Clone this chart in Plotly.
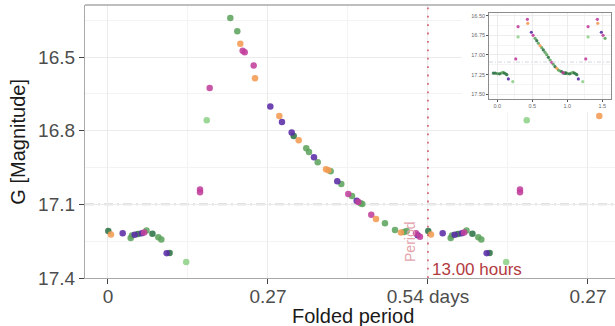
import plotly.graph_objects as go

# ---- folded light curve (days since epoch, folded on 0.54 d) ----
period_days = 0.54
phase_days = [0.0005, 0.005, 0.0248, 0.0383, 0.0405, 0.045, 0.0506, 0.057, 0.061, 0.065,
              0.075, 0.085, 0.090, 0.099, 0.104, 0.132, 0.1553, 0.1553, 0.1666, 0.1716,
              0.2064, 0.2182, 0.2233, 0.2273, 0.2307, 0.2459, 0.2481, 0.2739, 0.2891, 0.2936,
              0.310, 0.3134, 0.3218, 0.3346, 0.3392, 0.3476, 0.3539, 0.3679, 0.3718, 0.3758,
              0.3869, 0.3937, 0.4055, 0.4118, 0.4197, 0.4224, 0.4264, 0.4291, 0.4443, 0.4523,
              0.4674, 0.4843, 0.4944, 0.4995, 0.5041, 0.5198, 0.5226, 0.5265]
g_mag = [17.209, 17.223, 17.218, 17.237, 17.227, 17.224, 17.221, 17.218, 17.215, 17.207,
         17.220, 17.234, 17.243, 17.299, 17.298, 17.335, 17.040, 17.051, 16.757, 16.626,
         16.341, 16.395, 16.446, 16.474, 16.480, 16.534, 16.586, 16.701, 16.740, 16.765,
         16.807, 16.822, 16.839, 16.872, 16.887, 16.908, 16.929, 16.957, 16.961, 16.965,
         17.006, 17.017, 17.058, 17.066, 17.085, 17.090, 17.096, 17.099, 17.142, 17.160,
         17.177, 17.204, 17.215, 17.213, 17.209, 17.218, 17.226, 17.232]
group = ["dg", "or", "pu", "gr", "gr", "pu", "dg", "pu", "ma", "gr",
         "dg", "gr", "gr", "pu", "dg", "lg", "ma", "ma", "lg", "ma",
         "gr", "gr", "or", "ma", "ma", "ma", "or", "pu", "or", "pu",
         "pu", "dg", "or", "gr", "gr", "pu", "gr", "or", "or", "gr",
         "pu", "gr", "ma", "gr", "pu", "ma", "gr", "gr", "ma", "or",
         "gr", "gr", "or", "gr", "gr", "ma", "pu", "ma"]

# ---- inset: folded in phase units ----
inset_phase = [-0.057, -0.030, 0.000, 0.030, 0.055, 0.080, 0.100, 0.120, 0.135, 0.157,
               0.220, 0.263, 0.296, 0.296, 0.429, 0.434, 0.486, 0.510, 0.539, 0.563,
               0.586, 0.610, 0.634, 0.657, 0.681, 0.706, 0.729, 0.753, 0.777, 0.800,
               0.824, 0.849, 0.871, 0.896, 0.920, 0.940, 0.960, 0.980]
inset_mag = [17.230, 17.232, 17.236, 17.240, 17.232, 17.222, 17.230, 17.240, 17.250, 17.305,
             17.340, 17.050, 16.640, 16.770, 16.546, 16.597, 16.711, 16.750, 16.788, 16.818,
             16.851, 16.882, 16.907, 16.936, 16.966, 16.996, 17.030, 17.064, 17.093, 17.118,
             17.149, 17.169, 17.191, 17.204, 17.212, 17.225, 17.232, 17.228]
inset_group = ["dg", "dg", "gr", "dg", "gr", "gr", "dg", "gr", "dg", "pu",
               "lg", "ma", "ma", "lg", "ma", "or", "pu", "ma", "gr", "dg",
               "gr", "or", "gr", "dg", "gr", "gr", "dg", "gr", "ma", "gr",
               "dg", "or", "gr", "gr", "dg", "ma", "gr", "dg"]

colors = {"gr": "#5ea45e", "lg": "#8fd18a", "dg": "#2f7446", "pu": "#5a2ba6",
          "ma": "#c2409c", "or": "#f39b52"}

x_ticks = [0, 0.27, 0.54, 0.81]
x_ticktext = ["0", "0.27", "0.54 days", "0.27"]
y_ticks = [16.5, 16.8, 17.1, 17.4]
inset_xticks = [0.0, 0.5, 1.0, 1.5]
inset_yticks = [16.50, 16.75, 17.00, 17.25, 17.50]

X_MAX = 0.8556
REPEAT_LIMIT = 0.83
INSET_REPEAT_LIMIT = 1.56

fig = go.Figure()

# main folded light curve plus one extra cycle on the right
for key, col in colors.items():
    xs, ys = [], []
    for x, y, g in zip(phase_days, g_mag, group):
        if g != key:
            continue
        xs.append(x); ys.append(y)
        if x + period_days <= REPEAT_LIMIT:
            xs.append(x + period_days); ys.append(y)
    fig.add_trace(go.Scatter(x=xs, y=ys, mode="markers", showlegend=False,
                             marker=dict(size=6.5, color=col, opacity=0.88, line=dict(width=0)),
                             xaxis="x", yaxis="y", hoverinfo="skip"))

# white backing panel for the inset
fig.add_trace(go.Scatter(x=[], y=[], xaxis="x2", yaxis="y2", showlegend=False))

# inset light curve
for key, col in colors.items():
    xs, ys = [], []
    for x, y, g in zip(inset_phase, inset_mag, inset_group):
        if g != key:
            continue
        xs.append(x); ys.append(y)
        if x + 1 <= INSET_REPEAT_LIMIT:
            xs.append(x + 1); ys.append(y)
    fig.add_trace(go.Scatter(x=xs, y=ys, mode="markers", showlegend=False,
                             marker=dict(size=3.2, color=col, opacity=0.9, line=dict(width=0)),
                             xaxis="x3", yaxis="y3", hoverinfo="skip"))

grid = "#ebebeb"
border = "#a9a9a9"
tickfont = dict(family="Liberation Sans, Arial, sans-serif", size=19, color="#4d4d4d")
small = dict(family="Liberation Sans, Arial, sans-serif", size=5.5, color="#6a6a6a")

fig.update_layout(
    width=615, height=326,
    margin=dict(l=85, r=0, t=5, b=48),
    paper_bgcolor="white", plot_bgcolor="white",
    xaxis=dict(domain=[0, 1], range=[-0.0388, X_MAX], tickvals=x_ticks, ticktext=x_ticktext,
               showgrid=True, gridcolor=grid, gridwidth=1, zeroline=False,
               minor=dict(tickvals=[0.135, 0.405, 0.675], showgrid=True, gridcolor="#f3f3f3",
                          gridwidth=0.8, ticks=""),
               ticks="outside", ticklen=5, tickcolor="#444", tickwidth=1,
               ticklabelstandoff=-4,
               showline=True, linecolor=border, linewidth=1.3, tickfont=tickfont,
               anchor="y"),
    yaxis=dict(domain=[0, 1], range=[17.4, 16.288], tickvals=y_ticks,
               ticktext=["16.5", "16.8", "17.1", "17.4"],
               showgrid=True, gridcolor=grid, gridwidth=1, zeroline=False,
               minor=dict(tickvals=[16.35, 16.65, 16.95, 17.25], showgrid=True,
                          gridcolor="#f3f3f3", gridwidth=0.8, ticks=""),
               ticks="outside", ticklen=5, tickcolor="#444", tickwidth=1,
               showline=True, linecolor=border, linewidth=1.3, tickfont=tickfont,
               anchor="x"),
    xaxis2=dict(domain=[0.711, 1.0], range=[0, 1], visible=False, anchor="y2"),
    yaxis2=dict(domain=[0.608, 0.996], range=[0, 1], visible=False, anchor="x2"),
    xaxis3=dict(domain=[0.7623, 0.9925], range=[-0.119, 1.624], tickvals=inset_xticks,
                ticktext=["0.0", "0.5", "1.0", "1.5"],
                showgrid=True, gridcolor="#ececec", gridwidth=0.6, zeroline=False,
                minor=dict(tickvals=[0.25, 0.75, 1.25], showgrid=True, gridcolor="#f4f4f4",
                           gridwidth=0.5, ticks=""),
                ticks="outside", ticklen=2, tickcolor="#555", tickwidth=0.6,
                showline=True, mirror=True, linecolor="#8c8c8c", linewidth=0.8,
                tickfont=small, anchor="y3"),
    yaxis3=dict(domain=[0.6557, 0.9707], range=[17.56, 16.466], tickvals=inset_yticks,
                ticktext=["16.50", "16.75", "17.00", "17.25", "17.50"],
                showgrid=True, gridcolor="#ececec", gridwidth=0.6, zeroline=False,
                minor=dict(tickvals=[16.625, 16.875, 17.125, 17.375], showgrid=True,
                           gridcolor="#f4f4f4", gridwidth=0.5, ticks=""),
                ticks="outside", ticklen=2, tickcolor="#555", tickwidth=0.6,
                showline=True, mirror=True, linecolor="#8c8c8c", linewidth=0.8,
                tickfont=small, anchor="x3"),
    shapes=[
        # mean magnitude reference
        dict(type="line", xref="x", yref="y", x0=-0.0388, x1=X_MAX, y0=17.1, y1=17.1,
             line=dict(color="#c6c6c6", width=1.7, dash="9px,4px,2px,4px"), layer="below"),
        # one folding period
        dict(type="line", xref="x", yref="y", x0=period_days, x1=period_days, y0=17.4, y1=16.288,
             line=dict(color="#d46a7c", width=1.8, dash="1.8px,6.6px"), layer="above"),
        # inset mean line
        dict(type="line", xref="x3", yref="y3", x0=-0.119, x1=1.624, y0=17.09, y1=17.09,
             line=dict(color="#c9d2de", width=0.9, dash="4px,2px,1px,2px"), layer="above"),
        # top panel border
        dict(type="line", xref="paper", yref="paper", x0=0, x1=1, y0=1, y1=1,
             line=dict(color=border, width=1.3), layer="above"),
    ],
    annotations=[
        dict(text="G [Magnitude]", xref="paper", yref="paper", x=-0.128, y=0.5,
             textangle=-90, showarrow=False, xanchor="center", yanchor="middle",
             font=dict(family="Liberation Sans, Arial, sans-serif", size=20, color="#1a1a1a")),
        dict(text="Folded period", xref="paper", yref="paper", x=(353 - 85) / 530, y=-0.14,
             showarrow=False, xanchor="center", yanchor="middle",
             font=dict(family="Liberation Sans, Arial, sans-serif", size=20, color="#1a1a1a")),
        dict(text="Period", xref="x", yref="y", x=period_days, y=17.4, textangle=-90,
             xanchor="right", yanchor="bottom", xshift=-8, yshift=14, showarrow=False,
             font=dict(family="Liberation Sans, Arial, sans-serif", size=14, color="#e3a3ab")),
        dict(text="13.00 hours", xref="x", yref="paper", x=period_days, y=(278 - 269) / 273,
             xanchor="left", yanchor="middle", xshift=2, showarrow=False,
             font=dict(family="Liberation Sans, Arial, sans-serif", size=17, color="#b23a3f")),
    ],
)

fig.write_html("out.html")
